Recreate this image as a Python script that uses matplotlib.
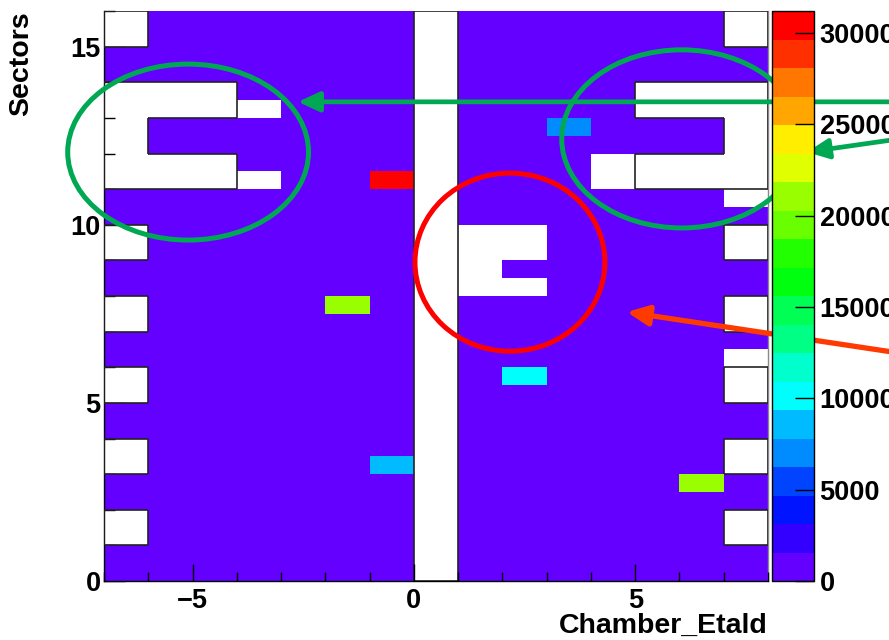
import colorsys

import matplotlib
matplotlib.use("Agg")
import matplotlib.pyplot as plt
import numpy as np
from matplotlib.collections import LineCollection
from matplotlib.colors import BoundaryNorm, ListedColormap
from matplotlib.patches import Ellipse

plt.rcParams['font.family'] = ['Liberation Sans', 'DejaVu Sans']
plt.rcParams['font.weight'] = 'bold'
plt.rcParams['axes.labelweight'] = 'bold'

# binning: chamber eta index x sector (half-sector steps)
eta_edges = np.arange(-7, 9)
sector_edges = np.arange(0, 16.5, 0.5)

# typical occupancy of a live chamber
base_counts = 800

# hot spots: eta low edge, sector low edge, counts
hot_eta = [-1, 3, -2, 6, -1, 2]
hot_sector = [11.0, 12.5, 7.5, 2.5, 3.0, 5.5]
hot_counts = [31200, 7000, 21000, 21000, 8600, 10100]

# chambers that are not installed (eta0, eta1, sector0, sector1)
missing = [
    (0, 1, 0, 16),
    (-7, -6, 1, 2), (-7, -6, 3, 4), (-7, -6, 5, 6),
    (-7, -6, 7, 8), (-7, -6, 9, 10), (-7, -6, 15, 16),
    (7, 8, 1, 2), (7, 8, 3, 4), (7, 8, 5, 6),
    (7, 8, 7, 8), (7, 8, 9, 10), (7, 8, 15, 16),
    (-7, -4, 11, 12), (-7, -6, 12, 13), (-7, -4, 13, 14),
    (5, 8, 11, 12), (7, 8, 12, 13), (5, 8, 13, 14),
]

# installed chambers without any hits
empty = [
    (-4, -3, 11, 11.5), (-4, -3, 13, 13.5), (4, 5, 11, 12),
    (7, 8, 10.5, 11), (7, 8, 6, 6.5),
    (1, 3, 8, 8.5), (1, 2, 8.5, 9), (1, 3, 9, 10),
]

n_cont = 20


def root_palette(ncont, ncolors=50):
    """ROOT 'pretty' palette sampled the way THistPainter picks contour colours"""
    cols = []
    for k in range(ncont):
        idx = int((k + 0.99) * ncolors / ncont)
        hue = 280.0 - (idx + 1) * 280.0 / ncolors
        cols.append(colorsys.hls_to_rgb(hue / 360.0, 0.5, 1.0))
    return ListedColormap(cols)


def region_mask(regions, xc, yc):
    m = np.zeros((len(yc), len(xc)), bool)
    X, Y = np.meshgrid(xc, yc)
    for e0, e1, s0, s1 in regions:
        m |= (X > e0) & (X < e1) & (Y > s0) & (Y < s1)
    return m


xc = 0.5 * (eta_edges[:-1] + eta_edges[1:])
yc = 0.5 * (sector_edges[:-1] + sector_edges[1:])

counts = np.full((len(yc), len(xc)), float(base_counts))
for e, s, c in zip(hot_eta, hot_sector, hot_counts):
    counts[np.searchsorted(sector_edges, s), np.searchsorted(eta_edges, e)] = c

dead = region_mask(missing, xc, yc)
counts[dead | region_mask(empty, xc, yc)] = np.nan

zmax = np.nanmax(counts)
levels = np.linspace(0, zmax, n_cont + 1)
cmap = root_palette(n_cont)
norm = BoundaryNorm(levels, cmap.N)

fig = plt.figure(figsize=(8.89, 6.40), dpi=100)
ax = fig.add_axes([104 / 889, 59 / 640, 664 / 889, 570 / 640])
cax = fig.add_axes([772 / 889, 59 / 640, 42 / 889, 570 / 640])

mesh = ax.pcolormesh(eta_edges, sector_edges, np.ma.masked_invalid(counts),
                     cmap=cmap, norm=norm, zorder=2)

# outline of the non-existing chambers
segs = []
ny, nx = dead.shape
for j in range(ny):
    for i in range(nx):
        if not dead[j, i]:
            continue
        x0, x1 = eta_edges[i], eta_edges[i + 1]
        y0, y1 = sector_edges[j], sector_edges[j + 1]
        if j == 0 or not dead[j - 1, i]:
            segs.append([(x0, y0), (x1, y0)])
        if j == ny - 1 or not dead[j + 1, i]:
            segs.append([(x0, y1), (x1, y1)])
        if i == 0 or not dead[j, i - 1]:
            segs.append([(x0, y0), (x0, y1)])
        if i == nx - 1 or not dead[j, i + 1]:
            segs.append([(x1, y0), (x1, y1)])
ax.add_collection(LineCollection(segs, colors='#222222', linewidths=1.2, zorder=2.6))

ax.set_xlim(eta_edges[0], eta_edges[-1])
ax.set_ylim(sector_edges[0], sector_edges[-1])
ax.set_xticks([-5, 0, 5])
ax.set_xticks(eta_edges, minor=True)
ax.set_yticks([0, 5, 10, 15])
ax.set_yticks(np.arange(0, 17), minor=True)
ax.tick_params(which='both', direction='in', top=False, right=False, width=1,
               labelsize=19.5)
ax.tick_params(axis='x', which='major', length=12, pad=5)
ax.tick_params(axis='x', which='minor', length=6.5)
ax.tick_params(axis='y', which='major', length=15, pad=2.5)
ax.tick_params(axis='y', which='minor', length=8)
# y ticks only show through the empty bins, x ticks sit on top
ax.yaxis.set_zorder(1)
ax.xaxis.set_zorder(3)
ax.spines['top'].set_visible(False)
for side in ['left', 'bottom', 'right']:
    ax.spines[side].set_linewidth(1)
ax.spines['right'].set_color('#888888')

ax.set_xlabel('Chamber_Etald', fontsize=20.5, fontweight='bold', loc='right')
ax.xaxis.set_label_coords(1.0, -52 / 570)
ax.xaxis.label.set_va('baseline')
ax.set_ylabel('Sectors', fontsize=20.5, fontweight='bold', loc='top')
ax.yaxis.set_label_coords(-76 / 664, 1.0)
ax.yaxis.label.set_va('baseline')

cb = fig.colorbar(mesh, cax=cax, ticks=np.arange(0, 30001, 5000))
cb.minorticks_off()
cb.outline.set_linewidth(1)
cax.tick_params(which='both', direction='in', length=13.7, width=1,
                labelsize=19.5, pad=4)
cax.tick_params(which='minor', length=0)

# highlighted regions
green = '#00a854'
ax.add_patch(Ellipse((-5.1, 12.04), 5.44, 4.94, fill=False, ec=green, lw=3.6,
                     clip_on=False, zorder=5))
ax.add_patch(Ellipse((6.05, 12.41), 5.42, 5.0, fill=False, ec=green, lw=3.6,
                     clip_on=False, zorder=5))
ax.add_patch(Ellipse((2.17, 8.95), 4.29, 5.0, fill=False, ec='#ff0000', lw=3.6,
                     clip_on=False, zorder=5))

arrow_style = '-|>,head_length=0.65,head_width=0.3'
ax.annotate('', xy=(-2.62, 13.45), xytext=(10.8, 13.45), annotation_clip=False,
            arrowprops=dict(arrowstyle=arrow_style, color=green, lw=3.4,
                            mutation_scale=20, shrinkA=0, shrinkB=0), zorder=6)
ax.annotate('', xy=(8.88, 12.04), xytext=(10.8, 12.38), annotation_clip=False,
            arrowprops=dict(arrowstyle=arrow_style, color=green, lw=3.4,
                            mutation_scale=20, shrinkA=0, shrinkB=0), zorder=6)
ax.annotate('', xy=(4.81, 7.55), xytext=(10.8, 6.43), annotation_clip=False,
            arrowprops=dict(arrowstyle=arrow_style, color='#ff3a00', lw=3.8,
                            mutation_scale=20, shrinkA=0, shrinkB=0), zorder=6)

fig.savefig('out.png', dpi=100, facecolor='white')
